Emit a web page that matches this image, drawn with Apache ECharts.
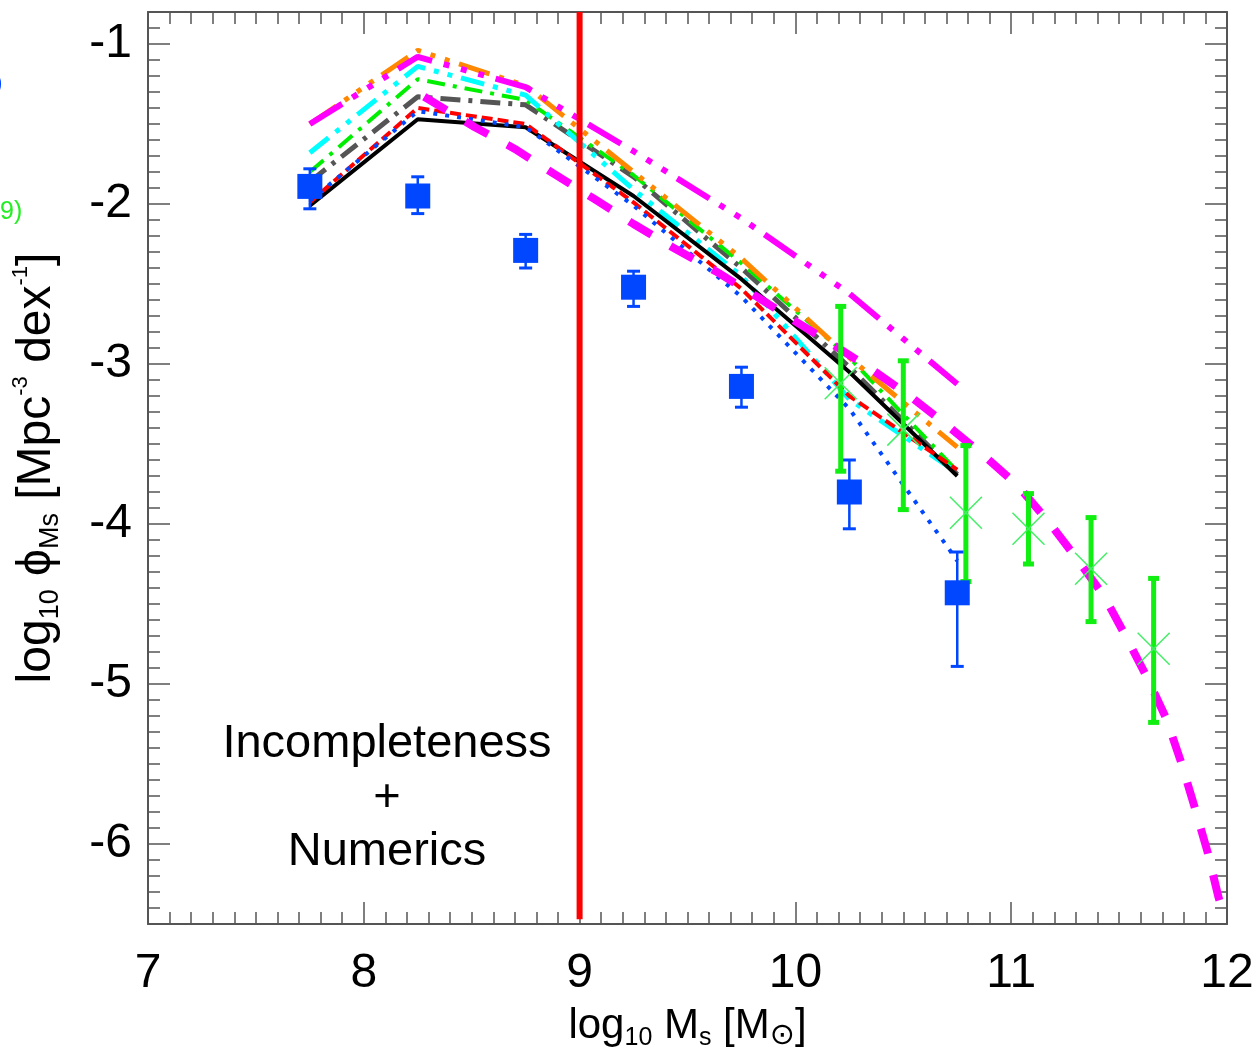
<!DOCTYPE html>
<html><head><meta charset="utf-8">
<script src="https://cdn.jsdelivr.net/npm/echarts@6/dist/echarts.min.js"></script>
<style>html,body{margin:0;padding:0;background:#fff}#c{width:1258px;height:1050px}</style>
</head><body><div id="c"></div>
<script>
// ---- data ----
const massBins = [7.75, 8.25, 8.75, 9.25, 9.75, 10.25, 10.75];
const modelBlack   = [-2.01, -1.47, -1.52, -1.95, -2.47, -3.05, -3.70];
const modelRed     = [-1.99, -1.40, -1.50, -1.99, -2.53, -3.20, -3.66];
const modelBlueDot = [-1.98, -1.42, -1.52, -2.01, -2.58, -3.28, -4.23];
const modelGray    = [-1.86, -1.33, -1.38, -1.83, -2.40, -3.02, -3.69];
const modelGreen   = [-1.80, -1.22, -1.35, -1.82, -2.37, -2.96, -3.67];
const modelCyan    = [-1.68, -1.14, -1.32, -1.91, -2.45, -3.22, -3.68];
const modelOrange  = [-1.50, -1.04, -1.26, -1.80, -2.34, -2.96, -3.52];
const modelMagenta = [-1.50, -1.08, -1.27, -1.67, -2.09, -2.56, -3.125];

const fitMass = [8.28, 8.515, 8.70, 8.88, 9.07, 9.25, 9.43, 9.63, 9.81, 9.99, 10.17, 10.36, 10.54, 10.70, 10.88, 11.03, 11.17, 11.30, 11.43, 11.53, 11.63, 11.72, 11.79, 11.85, 11.91, 11.96, 11.99];
const fitPhi  = [-1.33, -1.52, -1.656, -1.81, -1.97, -2.125, -2.27, -2.42, -2.57, -2.725, -2.875, -3.04, -3.21, -3.38, -3.58, -3.76, -3.98, -4.21, -4.45, -4.70, -4.96, -5.22, -5.50, -5.77, -6.05, -6.33, -6.46];

const obsBlueY  = [-1.89, -1.95, -2.29, -2.52, -3.14, -3.80, -4.43];
const obsBlueHi = [-1.78, -1.83, -2.19, -2.42, -3.02, -3.60, -4.175];
const obsBlueLo = [-2.03, -2.06, -2.40, -2.64, -3.27, -4.03, -4.89];

const obsGreenX  = [10.21, 10.50, 10.79, 11.08, 11.37, 11.66];
const obsGreenY  = [-3.12, -3.41, -3.93, -4.03, -4.28, -4.78];
const obsGreenHi = [-2.64, -2.98, -3.51, -3.81, -3.96, -4.34];
const obsGreenLo = [-3.67, -3.91, -4.36, -4.25, -4.61, -5.24];

const cutMass = 9;
const cutRange = [-0.8, -6.47];
const xTicks = [7, 8, 9, 10, 11, 12];
const yTicks = [-6, -5, -4, -3, -2, -1];
const xRange = [7, 12];
const yRange = [-6.5, -0.8];

// minor y ticks every 0.1
const yMinor = [];
for (let i = Math.round(yRange[0] * 10); i <= Math.round(yRange[1] * 10); i++) {
  if (i % 10 !== 0) yMinor.push(i / 10);
}

const pairs = (xs, ys) => xs.map((x, i) => [x, ys[i]]);

const FONT = "'Liberation Sans', Arial, sans-serif";
const AXC = '#555';
const BLUE = '#0047ff';
const GREEN = '#11ee11';

const chart = echarts.init(document.getElementById('c'));

function lineSeries(name, ys, color, width, type, z) {
  return {
    name, type: 'line', data: pairs(massBins, ys), showSymbol: false, symbol: 'none',
    xAxisIndex: 0, yAxisIndex: 0, z: z || 2, silent: true,
    lineStyle: { color, width, type }
  };
}

function errRender(color, width, capW, capH, cross) {
  return function (params, api) {
    const x = api.value(0);
    const top = api.coord([x, api.value(1)]);
    const bot = api.coord([x, api.value(2)]);
    const ch = [
      { type: 'line', shape: { x1: top[0], y1: top[1], x2: bot[0], y2: bot[1] }, style: { stroke: color, lineWidth: width } },
      { type: 'rect', shape: { x: top[0] - capW / 2, y: top[1] - capH / 2, width: capW, height: capH }, style: { fill: color } },
      { type: 'rect', shape: { x: bot[0] - capW / 2, y: bot[1] - capH / 2, width: capW, height: capH }, style: { fill: color } }
    ];
    if (cross) {
      const c = api.coord([x, api.value(3)]);
      const s = 16;
      ch.push({ type: 'line', shape: { x1: c[0] - s, y1: c[1] - s, x2: c[0] + s, y2: c[1] + s }, style: { stroke: '#44ee66', lineWidth: 1.5 } });
      ch.push({ type: 'line', shape: { x1: c[0] - s, y1: c[1] + s, x2: c[0] + s, y2: c[1] - s }, style: { stroke: '#44ee66', lineWidth: 1.5 } });
    }
    return { type: 'group', children: ch };
  };
}

const xAxisBase = {
  type: 'value', min: xRange[0], max: xRange[1], interval: 1,
  axisLine: { show: true, lineStyle: { color: AXC, width: 2 } },
  axisTick: { show: true, inside: true, length: 22, lineStyle: { color: AXC, width: 1.5 } },
  minorTick: { show: true, splitNumber: 10, length: 12, lineStyle: { color: AXC, width: 1.5 } },
  splitLine: { show: false }, minorSplitLine: { show: false }
};
const yAxisMajor = {
  type: 'value', min: yRange[0], max: yRange[1],
  axisLine: { show: true, lineStyle: { color: AXC, width: 2 } },
  axisTick: { show: true, inside: true, length: 22, customValues: yTicks, lineStyle: { color: AXC, width: 1.5 } },
  splitLine: { show: false }
};
const yAxisMinor = {
  type: 'value', min: yRange[0], max: yRange[1],
  axisLine: { show: false },
  axisTick: { show: true, inside: true, length: 12, customValues: yMinor, lineStyle: { color: AXC, width: 1.5 } },
  axisLabel: { show: false },
  splitLine: { show: false }
};

const option = {
  animation: false,
  backgroundColor: '#fff',
  grid: { left: 148, top: 12, right: 31, bottom: 126, containLabel: false, outerBoundsMode: 'none' },
  xAxis: [
    Object.assign({}, xAxisBase, {
      position: 'bottom',
      axisLabel: { show: true, margin: 26, color: '#000', fontSize: 48, fontFamily: FONT,
        customValues: xTicks, formatter: v => String(v) },
      name: 'log{sub|10} M{sub|s} [M{sun|⊙}]',
      nameLocation: 'middle', nameGap: 78,
      nameTextStyle: {
        color: '#000', fontSize: 42, fontFamily: FONT, lineHeight: 48,
        rich: {
          sub: { fontSize: 25, fontFamily: FONT, color: '#000', lineHeight: 22, verticalAlign: 'bottom' },
          sun: { fontSize: 30, fontFamily: 'DejaVu Sans', color: '#000', lineHeight: 26, verticalAlign: 'bottom' }
        }
      }
    }),
    Object.assign({}, xAxisBase, { position: 'top', axisLabel: { show: false } })
  ],
  yAxis: [
    Object.assign({}, yAxisMajor, {
      position: 'left',
      axisLabel: { show: true, margin: 16, color: '#000', fontSize: 48, fontFamily: FONT,
        customValues: yTicks, formatter: v => String(v) },
      name: 'log{sub|10} ϕ{sub|Ms} [Mpc{sup|-3} dex{sup|-1}]',
      nameLocation: 'middle', nameGap: 84, nameRotate: 90,
      nameTextStyle: {
        color: '#000', fontSize: 48, fontFamily: FONT, lineHeight: 54,
        rich: {
          sub: { fontSize: 27, fontFamily: FONT, color: '#000', lineHeight: 24, verticalAlign: 'bottom' },
          sup: { fontSize: 22, fontFamily: FONT, color: '#000', lineHeight: 28, verticalAlign: 'top' }
        }
      }
    }),
    Object.assign({}, yAxisMinor, { position: 'left' }),
    Object.assign({}, yAxisMajor, { position: 'right', axisLabel: { show: false } }),
    Object.assign({}, yAxisMinor, { position: 'right' })
  ],
  graphic: [
    { type: 'text', x: 387, y: 798, z: 100,
      style: { text: 'Incompleteness\n+\nNumerics', fill: '#000', fontSize: 47, fontFamily: FONT,
        textAlign: 'center', textVerticalAlign: 'middle', lineHeight: 54 } },
    { type: 'text', x: -6, y: 84, z: 100,
      style: { text: ')', fill: BLUE, fontSize: 26, fontFamily: FONT, textVerticalAlign: 'middle' } },
    { type: 'text', x: 0, y: 212, z: 100,
      style: { text: '9)', fill: '#22ee22', fontSize: 25, fontFamily: FONT, textVerticalAlign: 'middle' } }
  ],
  series: [
    lineSeries('black', modelBlack, '#000000', 4, 'solid', 3),
    lineSeries('red', modelRed, '#ff0000', 4, [11, 5], 3),
    lineSeries('blue', modelBlueDot, BLUE, 4, [4, 8], 3),
    lineSeries('gray', modelGray, '#555555', 5, [20, 8, 4, 8], 2),
    lineSeries('green', modelGreen, '#00ee00', 4, [18, 8, 4, 8], 2),
    lineSeries('cyan', modelCyan, '#00ffff', 5, [24, 9, 5, 9, 5, 9], 2),
    lineSeries('orange', modelOrange, '#ff8800', 5, [32, 10, 5, 10, 5, 10, 5, 10], 2),
    lineSeries('magentaUpper', modelMagenta, '#ff00ff', 6, [38, 12, 6, 12, 6, 12, 6, 12], 2),
    {
      name: 'fit', type: 'line', data: pairs(fitMass, fitPhi), showSymbol: false, symbol: 'none', z: 4, silent: true,
      lineStyle: { color: '#ff00ff', width: 8, type: [26, 22] }
    },
    {
      name: 'cut', type: 'line', data: [[cutMass, cutRange[0]], [cutMass, cutRange[1]]], showSymbol: false, symbol: 'none', z: 5, silent: true,
      lineStyle: { color: '#ff0000', width: 6 }
    },
    {
      name: 'blueErr', type: 'custom', z: 6, silent: true,
      data: massBins.map((x, i) => [x, obsBlueHi[i], obsBlueLo[i]]),
      encode: { x: 0, y: [1, 2] },
      renderItem: errRender(BLUE, 2.5, 13, 3, false)
    },
    {
      name: 'blueObs', type: 'scatter', z: 7, silent: true, symbol: 'rect', symbolSize: 25,
      data: pairs(massBins, obsBlueY), itemStyle: { color: BLUE, opacity: 1 }
    },
    {
      name: 'greenErr', type: 'custom', z: 6, silent: true,
      data: obsGreenX.map((x, i) => [x, obsGreenHi[i], obsGreenLo[i], obsGreenY[i]]),
      encode: { x: 0, y: [1, 2] },
      renderItem: errRender(GREEN, 5, 11, 5, true)
    }
  ]
};
chart.setOption(option);
</script></body></html>
